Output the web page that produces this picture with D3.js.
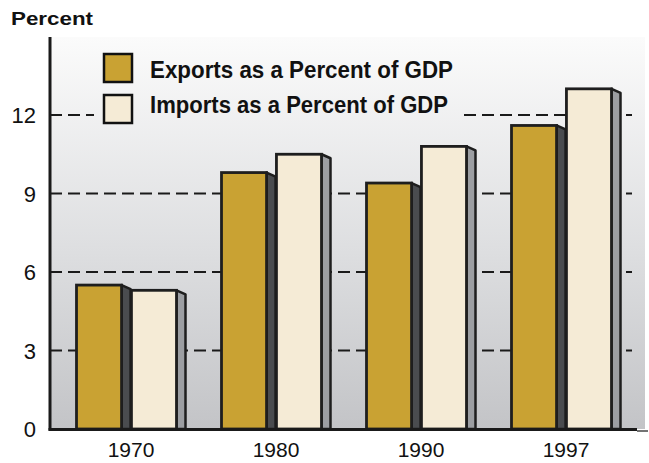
<!DOCTYPE html>
<html>
<head>
<meta charset="utf-8">
<script src="https://cdn.jsdelivr.net/npm/d3@7"></script>
<style>
  body { margin: 0; background: #fff; }
  text { font-family: "Liberation Sans", Arial, sans-serif; fill: #111; }
</style>
</head>
<body>
<div id="chart"></div>
<script>
// values
var years = ['1970', '1980', '1990', '1997'];
var seriesNames = ['Exports as a Percent of GDP', 'Imports as a Percent of GDP'];
var exportsPct = [5.5, 9.8, 9.4, 11.6];
var importsPct = [5.3, 10.5, 10.8, 13.0];
var yTicks = [0, 3, 6, 9, 12];

var width = 649, height = 463;
var frontColors = ['#c9a233', '#f5ebd6'];
var sideColors = ['#4a4c4f', '#9c9ea2'];
var depth = 9, slant = 4;

var svg = d3.select('#chart').append('svg')
    .attr('width', width)
    .attr('height', height);

var defs = svg.append('defs');
var grad = defs.append('linearGradient')
    .attr('id', 'bg')
    .attr('gradientUnits', 'userSpaceOnUse')
    .attr('x1', 0).attr('y1', 37).attr('x2', 0).attr('y2', 429);
grad.append('stop').attr('offset', '0%').attr('stop-color', '#fbfbfb');
grad.append('stop').attr('offset', '55%').attr('stop-color', '#dddee0');
grad.append('stop').attr('offset', '100%').attr('stop-color', '#c3c4c7');

var plot = { left: 50, right: 645, top: 37, bottom: 429 };

var y = d3.scaleLinear().domain([0, 12]).range([429, 115]);
var x0 = d3.scaleBand().domain(years).range([58.5, 638.5]);
var x1 = d3.scaleBand().domain(seriesNames).range([-54.5, 45.5]).paddingInner(0.18);

// background
svg.append('rect')
    .attr('x', plot.left).attr('y', plot.top)
    .attr('width', plot.right - plot.left).attr('height', plot.bottom - plot.top)
    .attr('fill', 'url(#bg)');

// dashed grid lines
svg.append('g').selectAll('line')
    .data(yTicks.filter(function (d) { return d > 0; }))
    .enter().append('line')
    .attr('x1', plot.left).attr('x2', 632)
    .attr('y1', function (d) { return y(d); })
    .attr('y2', function (d) { return y(d); })
    .attr('stroke', '#1a1a1a')
    .attr('stroke-width', 2.2)
    .attr('stroke-dasharray', '12,6');

// legend (covers the grid line)
svg.append('rect')
    .attr('x', 94).attr('y', 44).attr('width', 367).attr('height', 88)
    .attr('fill', 'url(#bg)');
var legend = svg.append('g').selectAll('g')
    .data(seriesNames)
    .enter().append('g')
    .attr('transform', function (d, i) { return 'translate(104,' + (54 + i * 41) + ')'; });
legend.append('rect')
    .attr('width', 28).attr('height', 28)
    .attr('fill', function (d, i) { return frontColors[i]; })
    .attr('stroke', '#111').attr('stroke-width', 2.5);
legend.append('text')
    .attr('x', 46).attr('y', function (d, i) { return i === 0 ? 24 : 18; })
    .attr('textLength', function (d, i) { return i === 0 ? 303 : 298; })
    .attr('lengthAdjust', 'spacingAndGlyphs')
    .style('font-size', '23px').style('font-weight', 'bold')
    .text(function (d) { return d; });

// bars
var rows = years.map(function (yr, i) {
    return { year: yr, values: [exportsPct[i], importsPct[i]] };
});
var groups = svg.append('g').selectAll('g')
    .data(rows)
    .enter().append('g')
    .attr('transform', function (d) { return 'translate(' + (x0(d.year) + x0.bandwidth() / 2) + ',0)'; });

var bars = groups.selectAll('g')
    .data(function (d) {
        return d.values.map(function (v, i) { return { key: seriesNames[i], value: v, idx: i }; });
    })
    .enter().append('g');

var bw = x1.bandwidth();
bars.append('path')
    .attr('d', function (d) {
        var xr = x1(d.key) + bw, top = y(d.value), base = y(0);
        return 'M' + xr + ',' + top + 'L' + (xr + depth) + ',' + (top + slant) +
            'L' + (xr + depth) + ',' + base + 'L' + xr + ',' + base + 'Z';
    })
    .attr('fill', function (d) { return sideColors[d.idx]; })
    .attr('stroke', '#1e1e1e').attr('stroke-width', 2.5)
    .attr('stroke-linejoin', 'round');
bars.append('rect')
    .attr('x', function (d) { return x1(d.key); })
    .attr('y', function (d) { return y(d.value); })
    .attr('width', bw)
    .attr('height', function (d) { return y(0) - y(d.value); })
    .attr('fill', function (d) { return frontColors[d.idx]; })
    .attr('stroke', '#1e1e1e').attr('stroke-width', 2.8);

// axes lines
svg.append('line')
    .attr('x1', plot.left).attr('x2', plot.left)
    .attr('y1', plot.top).attr('y2', 430.5)
    .attr('stroke', '#1a1a1a').attr('stroke-width', 3);
svg.append('line')
    .attr('x1', plot.left - 1.5).attr('x2', 637)
    .attr('y1', 429.5).attr('y2', 429.5)
    .attr('stroke', '#1a1a1a').attr('stroke-width', 3);
svg.append('line')
    .attr('x1', 637).attr('x2', 648)
    .attr('y1', 431).attr('y2', 431)
    .attr('stroke', '#444').attr('stroke-width', 1.5);

// y tick labels
svg.append('g').selectAll('text')
    .data(yTicks)
    .enter().append('text')
    .attr('x', 36)
    .attr('y', function (d) { return y(d) + 8; })
    .attr('text-anchor', 'end')
    .style('font-size', '22px')
    .text(function (d) { return d; });

// x labels
svg.append('g').selectAll('text')
    .data(years)
    .enter().append('text')
    .attr('x', function (d) { return x0(d) + x0.bandwidth() / 2; })
    .attr('y', 457)
    .attr('text-anchor', 'middle')
    .style('font-size', '21px')
    .text(function (d) { return d; });

// axis title
svg.append('text')
    .attr('x', 11).attr('y', 25)
    .attr('textLength', 82)
    .attr('lengthAdjust', 'spacingAndGlyphs')
    .style('font-size', '19px').style('font-weight', 'bold')
    .text('Percent');
</script>
</body>
</html>
